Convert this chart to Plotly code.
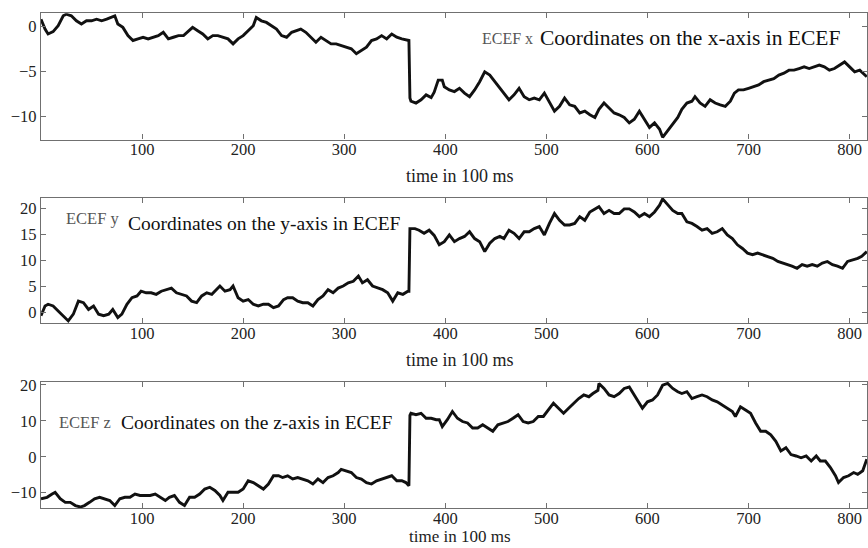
import plotly.graph_objects as go

# ECEF coordinate traces, time axis in units of 100 ms
t_x = [0, 4, 7, 12, 17, 22, 25, 30, 35, 40, 45, 50, 55, 60, 65, 70, 73, 76, 81, 86,
       91, 96, 101, 106, 111, 116, 121, 126, 131, 136, 141, 146, 150, 155, 160, 165,
       170, 175, 180, 185, 190, 195, 200, 205, 210, 213, 218, 223, 228, 233, 238, 243,
       248, 253, 257, 262, 267, 272, 277, 282, 287, 292, 297, 302, 307, 312, 317, 322,
       327, 332, 337, 342, 347, 352, 357, 362, 364, 365, 366, 371, 376, 381, 386, 389,
       393, 397, 399, 404, 409, 414, 419, 424, 429, 434, 439, 444, 449, 454, 458, 463,
       468, 473, 478, 483, 488, 493, 498, 503, 508, 513, 518, 523, 528, 533, 538, 543,
       548, 552, 557, 562, 567, 572, 577, 582, 587, 592, 597, 602, 607, 612, 615, 620,
       625, 630, 634, 639, 644, 647, 652, 657, 662, 667, 672, 677, 682, 686, 690, 695,
       700, 705, 710, 715, 720, 725, 730, 735, 740, 745, 750, 755, 760, 765, 770, 775,
       780, 785, 790, 795, 800, 805, 810, 815, 817]
ecef_x = [0.78, -0.31, -0.86, -0.6, 0.05, 1.15, 1.33, 1.15, 0.6, 0.24, 0.6, 0.6, 0.78,
          0.6, 0.78, 0.97, 1.15, 0.24, -0.13, -1.04, -1.58, -1.4, -1.22, -1.4, -1.22,
          -1.04, -0.67, -1.4, -1.22, -1.04, -1.04, -0.49, -0.13, -0.49, -0.86, -1.4,
          -1.04, -1.04, -1.22, -1.4, -1.95, -1.4, -1.04, -0.49, 0.05, 0.97, 0.6, 0.42,
          0.05, -0.31, -1.04, -1.22, -0.67, -0.49, -0.31, -0.67, -1.22, -1.77, -1.22,
          -1.58, -1.95, -1.95, -2.13, -2.31, -2.5, -3.04, -2.68, -2.31, -1.58, -1.4,
          -1.04, -1.4, -0.86, -1.22, -1.4, -1.58, -1.58, -7.95, -8.3, -8.5, -8.14,
          -7.6, -7.9, -7.3, -5.96, -5.96, -6.7, -7.05, -7.23, -6.87, -7.4, -7.8, -7.05,
          -6.14, -5.05, -5.4, -6.14, -6.87, -7.4, -8.14, -7.6, -6.87, -7.8, -8.14,
          -7.96, -8.14, -7.4, -8.33, -9.4, -8.87, -7.96, -8.7, -8.87, -9.6, -9.4, -9.8,
          -10.1, -9.2, -8.5, -9.05, -9.6, -9.8, -10.1, -10.7, -10.3, -9.4, -10.3, -11.2,
          -10.7, -11.4, -12.3, -11.6, -10.9, -10.1, -9.2, -8.5, -8.3, -7.8, -8.5, -8.87,
          -8.14, -8.5, -8.7, -8.87, -8.3, -7.4, -7.05, -7.05, -6.87, -6.7, -6.5, -6.14,
          -5.96, -5.8, -5.4, -5.2, -4.86, -4.86, -4.68, -4.5, -4.68, -4.5, -4.3, -4.5,
          -4.86, -4.68, -4.3, -3.95, -4.5, -5.05, -4.86, -5.4, -5.6]

t_y = [0, 4, 7, 12, 17, 22, 27, 32, 37, 42, 47, 52, 57, 62, 67, 71, 76, 80, 85, 90,
       95, 99, 104, 109, 114, 119, 124, 129, 134, 139, 144, 149, 154, 159, 164, 169,
       174, 177, 182, 187, 190, 195, 200, 205, 210, 215, 220, 225, 230, 235, 240, 244,
       249, 254, 259, 264, 269, 274, 279, 284, 289, 294, 299, 304, 309, 314, 318, 323,
       328, 333, 338, 343, 348, 353, 358, 363, 364, 365, 370, 374, 379, 384, 389, 394,
       399, 404, 409, 414, 419, 424, 429, 434, 439, 444, 449, 454, 458, 463, 468, 473,
       478, 483, 488, 493, 498, 503, 508, 513, 518, 523, 528, 533, 538, 543, 548, 552,
       557, 562, 567, 572, 577, 582, 587, 592, 597, 602, 607, 612, 615, 620, 625, 630,
       634, 639, 644, 649, 654, 659, 664, 669, 674, 679, 684, 689, 694, 699, 704, 709,
       714, 719, 724, 729, 734, 738, 743, 748, 753, 758, 763, 768, 773, 778, 783, 788,
       793, 798, 803, 808, 812, 817]
ecef_y = [-0.6, 1.27, 1.6, 1.27, 0.3, -0.6, -1.6, -0.3, 2.2, 1.9, 0.6, 1.27, -0.3, -0.6,
          -0.3, 0.6, -0.95, -0.3, 1.6, 2.85, 3.2, 4.1, 3.8, 3.8, 3.5, 4.1, 4.4, 4.7, 3.8,
          3.5, 3.2, 2.2, 1.9, 3.2, 3.8, 3.5, 4.4, 5.1, 4.1, 4.4, 5.1, 2.85, 2.2, 2.5,
          1.6, 1.27, 1.6, 1.6, 0.95, 1.27, 2.5, 2.85, 2.85, 2.2, 1.9, 1.9, 1.27, 2.5,
          3.2, 4.4, 3.8, 4.7, 5.1, 5.7, 6.0, 7.0, 5.7, 6.3, 5.1, 4.7, 4.4, 3.8, 2.2, 3.8,
          3.5, 4.1, 4.1, 16.1, 16.1, 15.8, 15.2, 15.8, 14.8, 13.0, 13.6, 14.9, 13.6,
          14.2, 14.6, 15.5, 14.2, 13.6, 11.7, 13.3, 14.2, 14.6, 14.2, 15.8, 15.2, 14.2,
          15.5, 15.5, 16.1, 16.5, 14.9, 17.1, 19.0, 17.7, 16.8, 16.8, 17.1, 18.4, 17.7,
          19.3, 19.9, 20.3, 19.0, 19.6, 19.0, 19.0, 19.9, 19.9, 19.3, 18.4, 19.0, 18.4,
          19.3, 20.6, 21.8, 20.6, 19.6, 19.0, 19.0, 17.4, 17.1, 16.5, 15.8, 16.1, 15.2,
          15.5, 16.1, 14.9, 14.2, 13.0, 12.3, 11.4, 11.1, 11.4, 11.1, 10.8, 10.4, 9.8,
          9.5, 9.2, 8.9, 8.5, 9.2, 8.9, 9.2, 8.9, 9.5, 9.8, 9.2, 8.9, 8.5, 9.8, 10.1,
          10.4, 10.8, 11.7]

t_z = [0, 6, 11, 14, 19, 24, 29, 34, 39, 43, 48, 53, 58, 63, 68, 73, 78, 83, 88, 93,
       98, 103, 108, 113, 118, 123, 127, 132, 137, 142, 147, 152, 157, 162, 167, 172,
       177, 180, 185, 190, 195, 200, 205, 210, 215, 220, 225, 230, 235, 239, 244, 249,
       254, 259, 264, 269, 274, 279, 284, 289, 294, 297, 302, 307, 312, 317, 322, 327,
       332, 337, 342, 347, 352, 357, 361, 364, 365, 366, 371, 376, 381, 386, 391, 394,
       397, 402, 407, 412, 417, 422, 427, 432, 437, 442, 447, 452, 457, 462, 467, 472,
       477, 482, 487, 492, 497, 502, 507, 512, 517, 522, 527, 532, 537, 542, 546, 551,
       552, 557, 562, 567, 572, 577, 582, 587, 592, 595, 600, 605, 610, 615, 620, 625,
       630, 634, 639, 644, 649, 654, 659, 664, 669, 674, 679, 684, 687, 692, 697, 702,
       707, 712, 717, 722, 727, 732, 737, 742, 747, 752, 757, 762, 767, 771, 776, 781,
       786, 789, 794, 799, 804, 808, 813, 817]
ecef_z = [-11.7, -11.3, -10.4, -9.9, -11.7, -12.7, -12.7, -13.6, -14.0, -13.6, -12.7,
          -11.7, -11.3, -11.7, -12.2, -13.6, -11.7, -11.3, -11.3, -10.4, -10.8, -10.8,
          -10.8, -10.4, -11.3, -12.2, -11.3, -10.8, -12.7, -13.6, -11.3, -11.3, -10.4,
          -9.0, -8.5, -9.4, -10.8, -12.2, -9.9, -9.9, -9.9, -9.0, -6.7, -7.2, -8.1, -9.0,
          -7.6, -5.3, -5.3, -5.8, -5.3, -6.2, -5.8, -6.2, -6.7, -7.6, -6.2, -7.2, -5.8,
          -5.3, -4.4, -3.5, -3.9, -4.4, -5.8, -6.2, -7.2, -7.6, -6.7, -6.2, -5.8, -5.3,
          -6.7, -6.7, -7.2, -8.1, 11.5, 12.1, 11.7, 12.1, 10.7, 10.7, 10.3, 10.3, 8.4,
          10.3, 12.6, 10.7, 9.8, 9.4, 8.0, 8.0, 8.9, 8.0, 7.1, 8.9, 9.4, 9.8, 10.7, 11.7,
          9.8, 9.4, 9.8, 11.2, 11.2, 13.0, 14.9, 13.5, 12.1, 13.5, 14.9, 16.2, 17.2, 16.7,
          17.6, 18.5, 20.4, 19.0, 17.2, 16.7, 17.6, 19.0, 19.4, 17.2, 14.9, 13.5, 15.3,
          15.8, 17.2, 19.9, 20.4, 19.0, 18.1, 17.6, 18.1, 16.2, 16.7, 17.2, 16.7, 15.8,
          15.3, 14.4, 13.5, 12.6, 11.2, 13.9, 13.0, 12.1, 9.4, 7.1, 7.1, 6.1, 4.3, 1.6,
          2.5, 0.6, 0.2, -0.3, 0.2, -1.2, 0.2, -1.2, -1.2, -3.0, -5.3, -7.2, -5.8, -5.3,
          -4.4, -4.9, -3.9, -0.7]

x_ticks = [100, 200, 300, 400, 500, 600, 700, 800]
y_ticks = [[-10, -5, 0], [0, 5, 10, 15, 20], [-10, 0, 10, 20]]
y_ranges = [[-12.54, 1.44], [-2.09, 22.0], [-14.4, 20.85]]
x_label = "time in 100 ms"
tags = ["ECEF x", "ECEF y", "ECEF z"]
captions = ["Coordinates on the x-axis in ECEF",
            "Coordinates on the y-axis in ECEF",
            "Coordinates on the z-axis in ECEF"]

W, H = 868, 548
ML = 41
SERIF = "Liberation Serif"

# panel boxes in pixels (top, bottom)
panels = [(7.3, 135), (194, 321), (380, 508)]


def paper(px, py):
    return (px - ML) / (W - ML), 1 - py / H


fig = go.Figure()
series = [(t_x, ecef_x), (t_y, ecef_y), (t_z, ecef_z)]
for i, (t, v) in enumerate(series):
    sfx = "" if i == 0 else str(i + 1)
    fig.add_trace(go.Scatter(x=t, y=v, mode="lines", xaxis="x" + sfx, yaxis="y" + sfx,
                             line=dict(color="#111111", width=2.9), showlegend=False,
                             hoverinfo="skip"))

axis_style = dict(showline=True, linecolor="#707070", linewidth=1.3, mirror="ticks",
                  ticks="inside", ticklen=5, tickwidth=1.2, tickcolor="#707070",
                  showgrid=False, zeroline=False,
                  tickfont=dict(family=SERIF, size=16.5, color="#222222"))

layout = dict(width=W, height=H, margin=dict(l=ML, r=0, t=0, b=0),
              paper_bgcolor="white", plot_bgcolor="white", showlegend=False)
for i, (top, bot) in enumerate(panels):
    sfx = "" if i == 0 else str(i + 1)
    layout["xaxis" + sfx] = dict(axis_style, domain=[0, 1], range=[0, 817.2],
                                 tickvals=x_ticks, anchor="y" + sfx,
                                 ticklabelstandoff=-5)
    layout["yaxis" + sfx] = dict(axis_style, domain=[1 - bot / H, 1 - top / H],
                                 range=y_ranges[i], tickvals=y_ticks[i],
                                 anchor="x" + sfx)
fig.update_layout(**layout)

# axis titles
title_rows = [(172, 18), (358, 18), (536.5, 17)]
for py, fs in title_rows:
    x0, y0 = paper(461, py)
    fig.add_annotation(x=x0, y=y0, xref="paper", yref="paper", text=x_label,
                       showarrow=False, xanchor="center", yanchor="middle",
                       font=dict(family=SERIF, size=fs, color="#222222"))

# in-panel captions: small grey tag followed by the description
tag_pos = [(481, 32.4, 16), (64, 214.9, 16.5), (57, 421.0, 16.5)]
cap_pos = [(538.5, 32.0, 21.5), (126.5, 219.9, 19.5), (119, 421.2, 19.5)]
for i in range(3):
    tx, ty, ts = tag_pos[i]
    cx, cy, cs = cap_pos[i]
    a, b = paper(tx, ty)
    fig.add_annotation(x=a, y=b, xref="paper", yref="paper", text=tags[i],
                       showarrow=False, xanchor="left", yanchor="middle",
                       font=dict(family=SERIF, size=ts, color="#555555"))
    a, b = paper(cx, cy)
    fig.add_annotation(x=a, y=b, xref="paper", yref="paper", text=captions[i],
                       showarrow=False, xanchor="left", yanchor="middle",
                       font=dict(family=SERIF, size=cs, color="#111111"))

fig.write_html("out.html")
